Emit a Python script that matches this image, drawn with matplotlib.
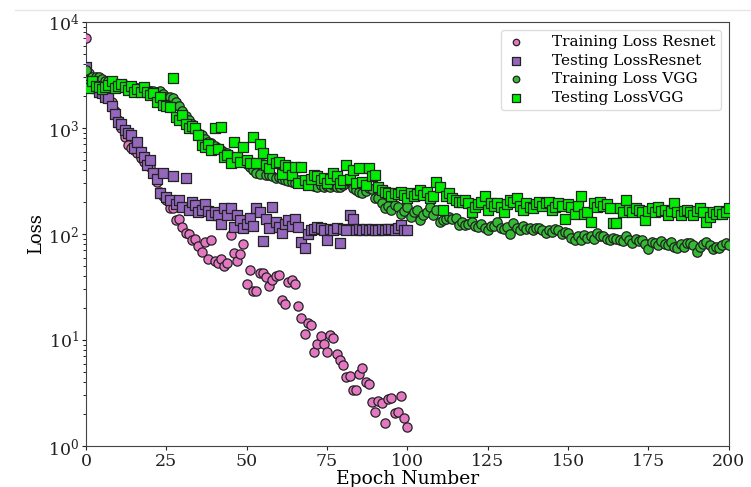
import matplotlib
matplotlib.use('Agg')
import matplotlib.pyplot as plt
from matplotlib.lines import Line2D
import numpy as np

plt.rcParams['font.family'] = 'serif'
plt.rcParams['font.serif'] = ['DejaVu Serif']
plt.rcParams['mathtext.fontset'] = 'dejavuserif'

# loss values read per epoch
train_resnet = [
    7000, 3300, 2900, 2700, 2500, 2300, 2100, 1900, 1770, 1450,
    1200, 1000, 820, 690, 650, 620, 580, 520, 480, 450,
    430, 380, 310, 250, 230, 210, 175, 175, 135, 140,
    117, 102, 100, 88, 90, 77, 67, 84, 58, 88,
    56, 53, 58, 50, 53, 98, 66, 56, 65, 80,
    34, 46, 29, 29, 43, 43, 39, 32, 37, 40,
    41, 24, 22, 35, 37, 34, 21, 16, 11.4, 14.5,
    13.8, 7.7, 9.2, 11, 9.2, 7.7, 11.1, 10.4, 7.4, 6.5,
    5.8, 4.5, 4.6, 3.4, 3.4, 4.8, 5.5, 4.0, 3.85, 2.6,
    2.1, 2.65, 2.55, 1.65, 2.77, 2.85, 2.05, 2.1, 2.95, 1.85,
    1.5]

test_resnet = [
    3750, 2800, 2600, 2400, 2200, 2150, 1950, 1900, 1600, 1350,
    1150, 1100, 960, 900, 860, 650, 740, 600, 535, 450,
    500, 375, 330, 245, 375, 225, 210, 350, 190, 210,
    180, 335, 170, 200, 187, 160, 170, 190, 165, 150,
    160, 150, 124, 175, 150, 175, 117, 150, 135, 114,
    125, 143, 120, 175, 160, 86, 140, 114, 180, 130,
    117, 102, 125, 135, 118, 140, 117, 84, 74, 100,
    110, 112, 117, 115, 110, 88, 112, 110, 113, 82,
    112, 110, 150, 140, 110, 111, 109, 112, 110, 111,
    109, 110, 112, 110, 111, 112, 110, 113, 122, 110,
    109]

train_vgg = [
    3500, 2900, 3050, 3000, 3000, 2900, 2800, 2750, 2700, 2650,
    2600, 2600, 2550, 2500, 2450, 2450, 2400, 2350, 2350, 2300,
    2250, 2250, 2200, 2250, 2100, 1950, 1950, 1900, 1750, 1600,
    1450, 1300, 1200, 1100, 1000, 900, 850, 780, 740, 720,
    680, 650, 620, 600, 580, 540, 520, 510, 500, 480,
    460, 430, 400, 380, 370, 460, 360, 360, 350, 340,
    345, 330, 320, 315, 310, 305, 320, 300, 300, 290,
    295, 285, 280, 290, 275, 285, 280, 290, 275, 280,
    290, 300, 310, 270, 260, 250, 245, 255, 270, 265,
    220, 220, 195, 175, 185, 170, 187, 180, 155, 165,
    180, 145, 160, 170, 135, 150, 160, 180, 150, 170,
    130, 135, 140, 145, 140, 141, 121, 130, 121, 125,
    130, 120, 117, 125, 115, 109, 120, 118, 130, 115,
    112, 117, 100, 126, 115, 109, 118, 112, 113, 110,
    115, 113, 108, 102, 110, 105, 112, 109, 100, 105,
    102, 92, 88, 95, 88, 98, 92, 96, 90, 102,
    95, 95, 90, 88, 92, 90, 88, 85, 95, 88,
    82, 90, 85, 88, 80, 72, 84, 82, 78, 85,
    80, 78, 84, 76, 74, 80, 76, 82, 82, 78,
    68, 76, 80, 84, 78, 72, 76, 74, 78, 82,
    78]

test_vgg = [
    2550, 2400, 2750, 2500, 2450, 2350, 2450, 2550, 2750, 2400,
    2500, 2600, 2450, 2300, 2500, 2200, 2350, 2200, 2450, 2200,
    2050, 2150, 1750, 1950, 1650, 1600, 1580, 2950, 1270, 1200,
    1330, 1100, 1000, 1050, 1000, 860, 690, 660, 700, 620,
    1000, 640, 1030, 535, 560, 465, 740, 535, 480, 660,
    500, 465, 830, 470, 700, 580, 450, 420, 510, 465,
    480, 370, 450, 430, 360, 430, 300, 430, 320, 290,
    330, 360, 350, 320, 340, 300, 330, 380, 350, 300,
    320, 450, 330, 400, 300, 420, 310, 290, 420, 350,
    360, 280, 260, 250, 245, 230, 245, 240, 250, 235,
    220, 245, 230, 240, 260, 235, 250, 220, 230, 310,
    280, 170, 230, 245, 220, 210, 200, 200, 210, 195,
    160, 180, 190, 200, 230, 170, 195, 185, 195, 180,
    160, 190, 210, 200, 220, 185, 170, 195, 180, 175,
    190, 200, 185, 195, 200, 170, 180, 195, 185, 140,
    190, 180, 155, 185, 230, 155, 160, 130, 195, 180,
    200, 185, 190, 175, 127, 127, 175, 160, 210, 170,
    160, 175, 170, 160, 135, 165, 175, 160, 180, 165,
    170, 150, 165, 195, 160, 150, 165, 170, 160, 150,
    165, 175, 160, 130, 145, 160, 155, 165, 155, 160,
    175]

ep_resnet = np.arange(len(train_resnet))
ep_vgg = np.arange(len(train_vgg))

fig = plt.figure(figsize=(7.51, 4.87), dpi=100)
ax = fig.add_axes([0.1145, 0.0842, 0.856, 0.8706])

ax.scatter(ep_resnet, train_resnet, s=44, marker='o', color='#e377c2',
           edgecolors='#222222', linewidths=0.9, label='Training Loss Resnet', zorder=3)
ax.scatter(ep_resnet, test_resnet, s=55, marker='s', color='#9467bd',
           edgecolors='#222222', linewidths=0.9, label='Testing LossResnet', zorder=3)
ax.scatter(ep_vgg, train_vgg, s=46, marker='o', color='#33bb33',
           edgecolors='#222222', linewidths=0.9, label='Training Loss VGG', zorder=3)
ax.scatter(ep_vgg, test_vgg, s=55, marker='s', color='#00ee00',
           edgecolors='#222222', linewidths=0.9, label='Testing LossVGG', zorder=3)

ax.set_yscale('log')
ax.set_ylim(1, 1e4)
ax.set_xlim(0, 200)
ax.set_xticks([0, 25, 50, 75, 100, 125, 150, 175, 200])
ax.tick_params(labelsize=12.5, colors='#222222', length=3, pad=2)
ax.tick_params(which='minor', length=2)
ax.set_xlabel('Epoch Number', fontsize=13.5, labelpad=0)
ax.set_ylabel('Loss', fontsize=13, labelpad=2)
for sp in ax.spines.values():
    sp.set_color('#444444')

ax.legend(loc='upper right', fontsize=11, markerscale=0.7, handletextpad=1.8,
          handlelength=1.2, borderpad=0.35, labelspacing=0.3, framealpha=1,
          edgecolor='#dddddd')

# faint screenshot border line at top
fig.add_artist(Line2D([0.02, 1.0], [1 - 10 / 487, 1 - 10 / 487],
                      color='#e6e6e6', lw=1, transform=fig.transFigure))

fig.savefig('out.png', dpi=100)
